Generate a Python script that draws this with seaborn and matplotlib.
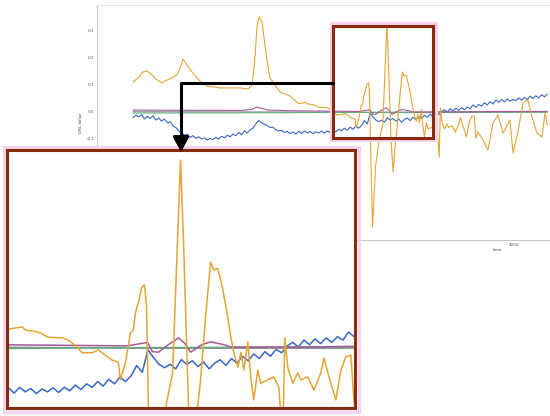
import numpy as np
import matplotlib
matplotlib.use("Agg")
import matplotlib.pyplot as plt
import seaborn as sns
from matplotlib.patches import Rectangle, FancyArrowPatch
from matplotlib.path import Path

# ---- data (time in samples) ----
blue_t = np.arange(0, 4351, 30)
blue_v = [-0.022, -0.012, -0.018, -0.010, -0.026, -0.016, -0.024, -0.014, -0.030, -0.022,
          -0.034, -0.026, -0.040, -0.036, -0.052, -0.058, -0.070, -0.078, -0.086, -0.082,
          -0.094, -0.088, -0.098, -0.092, -0.100, -0.096, -0.104, -0.098, -0.102, -0.094,
          -0.100, -0.090, -0.096, -0.086, -0.092, -0.082, -0.088, -0.076, -0.084, -0.070,
          -0.078, -0.066, -0.060, -0.044, -0.032, -0.040, -0.046, -0.050, -0.058, -0.056,
          -0.066, -0.070, -0.068, -0.076, -0.072, -0.080, -0.074, -0.082, -0.071, -0.080,
          -0.070, -0.078, -0.072, -0.081, -0.073, -0.078, -0.071, -0.079, -0.070, -0.076,
          -0.066, -0.074, -0.064, -0.070, -0.060, -0.068, -0.056, -0.064, -0.052, -0.060,
          -0.050, -0.032, -0.044, -0.005, -0.018, -0.030, -0.036, -0.030, -0.038, -0.022,
          -0.030, -0.024, -0.034, -0.026, -0.038, -0.028, -0.022, -0.032, -0.020, -0.028,
          -0.016, -0.024, -0.012, -0.020, -0.008, -0.016, -0.004, -0.010, 0.002, 0.008,
          0.000, 0.012, 0.004, 0.014, 0.006, 0.016, 0.008, 0.018, 0.012, 0.026,
          0.018, 0.028, 0.022, 0.034, 0.026, 0.038, 0.030, 0.044, 0.036, 0.046,
          0.038, 0.048, 0.040, 0.046, 0.042, 0.052, 0.044, 0.054, 0.046, 0.058,
          0.050, 0.060, 0.052, 0.064, 0.056, 0.066]

orange_t = [0, 52, 105, 147, 200, 252, 304, 336, 388, 462,
            494, 525, 567, 620, 672, 724, 777, 840, 913, 1018,
            1124, 1207, 1250, 1260, 1281, 1302, 1323, 1354, 1375, 1407,
            1438, 1512, 1543, 1648,
            1738, 1813, 1830, 1900, 1954, 2029, 2062, 2099, 2137, 2191,
            2224, 2261, 2299, 2331, 2342, 2369, 2396, 2412, 2423, 2439,
            2456, 2472, 2483, 2493, 2515, 2547, 2585, 2623, 2650, 2666,
            2682, 2709, 2731, 2758, 2774, 2801, 2828, 2844, 2866, 2882,
            2893, 2920, 2937, 2953, 2975, 2991, 3007, 3028, 3044, 3060,
            3082, 3098, 3135, 3168, 3195, 3216, 3227, 3243, 3270, 3297,
            3313, 3351, 3384, 3421, 3438, 3465, 3502, 3529, 3556, 3583,
            3600,
            3622, 3675, 3727, 3780, 3832, 3885, 3958, 3990, 4042, 4095,
            4147, 4190, 4242, 4294, 4326, 4350]
orange_v = [0.111, 0.126, 0.148, 0.152, 0.137, 0.119, 0.107, 0.115, 0.122, 0.137,
            0.163, 0.196, 0.174, 0.148, 0.126, 0.107, 0.096, 0.093, 0.089, 0.089,
            0.089, 0.085, 0.100, 0.130, 0.204, 0.315, 0.352, 0.333, 0.278, 0.193,
            0.126, 0.089, 0.074, 0.059,
            0.031, 0.035, 0.030, 0.026, 0.017, 0.016, 0.012, 0.003, -0.010, -0.010,
            -0.005, -0.014, -0.023, -0.026, -0.057, -0.028, 0.024, 0.030, 0.059, 0.077,
            0.103, 0.108, 0.073, -0.104, -0.426, -0.200, -0.106, -0.046, 0.186, 0.325,
            0.186, -0.104, -0.222, -0.104, -0.057, 0.053, 0.148, 0.134, 0.137, 0.117,
            0.100, 0.053, 0.017, -0.010, -0.035, -0.009, -0.040, 0.009, -0.052, -0.092,
            -0.040, -0.063, -0.057, -0.052, -0.070, -0.167, 0.016, -0.035, -0.063, -0.045,
            -0.057, -0.052, -0.075, -0.045, -0.019, -0.052, -0.092, -0.040, -0.017, -0.014,
            -0.097,
            -0.074, -0.104, -0.141, -0.041, -0.011, -0.078, -0.030, -0.152, -0.074, 0.033,
            0.044, -0.019, -0.078, -0.093, -0.004, -0.048]

purple_t = [0, 600, 1150, 1250, 1300, 1340, 1420, 1700, 2380, 2488, 2515, 2547,
            2600, 2655, 2690, 2720, 2780, 2828, 2900, 2937, 3300, 3800, 4350]
purple_v = [0.007, 0.006, 0.006, 0.010, 0.018, 0.014, 0.007, 0.004, 0.002, 0.008, -0.008, -0.009,
            0.004, 0.016, 0.006, -0.009, 0.004, 0.009, 0.004, 0.000, 0.000, 0.002, 0.002]

grey_t = [0, 1500, 2500, 3500, 4350]
grey_v = [0.001, 0.000, -0.002, -0.002, -0.001]
green_t = [0, 1500, 2500, 3500, 4350]
green_v = [-0.004, -0.003, -0.001, 0.000, 0.000]

# zoom window marked on the main view, and range shown in the inset
box_x = (2100, 3150)
box_y = (-0.0963, 0.3185)
inset_xlim = (1732, 3605)
inset_ylim = (-0.106, 0.3426)

c_blue, c_orange = "#3867c2", "#e3a535"
c_purple, c_grey, c_green = "#a2589a", "#8e8e8e", "#5fae82"
c_box, c_halo = "#8a2a0e", "#f8d2ee"

sns.set_theme(style="white")
plt.rcParams['font.family'] = ['DejaVu Sans']

fig = plt.figure(figsize=(5.5, 4.16), dpi=100)
W, H = 550, 416


def draw_lines(ax, lw):
    sns.lineplot(x=blue_t, y=blue_v, ax=ax, color=c_blue, lw=lw, estimator=None)
    sns.lineplot(x=grey_t, y=grey_v, ax=ax, color=c_grey, lw=lw, estimator=None)
    sns.lineplot(x=green_t, y=green_v, ax=ax, color=c_green, lw=lw, estimator=None)
    sns.lineplot(x=purple_t, y=purple_v, ax=ax, color=c_purple, lw=lw, estimator=None)
    sns.lineplot(x=orange_t, y=orange_v, ax=ax, color=c_orange, lw=lw, estimator=None)


# main view (right part runs off the picture)
ax = fig.add_axes([97 / W, 176 / H, 802 / W, 235 / H])
draw_lines(ax, 0.8)
ax.set_xlim(-378, 8043)
ax.set_ylim(-0.474, 0.396)
yt = [-0.4, -0.3, -0.2, -0.1, 0.0, 0.1, 0.2, 0.3]
ax.set_yticks(yt)
ax.set_yticklabels([f"{v:.1f}" for v in yt])
ax.set_xticks([0, 2000, 4000])
ax.tick_params(labelsize=3, length=0, pad=2, colors="#555555")
ax.set_xlabel("time", fontsize=3, labelpad=1, color="#444444")
ax.set_ylabel("DRL Value", fontsize=3, labelpad=2, color="#444444")
for s in ax.spines.values():
    s.set_color("#c8c8c8")
    s.set_linewidth(0.8)
ax.spines["top"].set_color("#e6e6e6")

# marked window on the main view
dx = 2.5 * 8421 / 802
dy = 2.5 / 270
ax.add_patch(Rectangle((box_x[0] - dx, box_y[0] - dy), box_x[1] - box_x[0] + 2 * dx,
                       box_y[1] - box_y[0] + 2 * dy, fill=False, ec=c_halo, lw=2.2, zorder=5))
ax.add_patch(Rectangle((box_x[0], box_y[0]), box_x[1] - box_x[0], box_y[1] - box_y[0],
                       fill=False, ec=c_box, lw=2.2, zorder=6))

# pink halo around the inset
fig.add_artist(Rectangle((3.5 / W, 4.5 / H), 355 / W, 265 / H, fill=False, ec=c_halo,
                         lw=2.2, transform=fig.transFigure, zorder=3))

# zoomed inset
ax_in = fig.add_axes([7 / W, 8 / H, 348 / W, 258 / H], zorder=5)
draw_lines(ax_in, 1.1)
ax_in.set_xlim(*inset_xlim)
ax_in.set_ylim(*inset_ylim)
ax_in.set_xticks([])
ax_in.set_yticks([])
ax_in.set_xlabel("")
ax_in.set_ylabel("")
ax_in.set_facecolor("white")
for s in ax_in.spines.values():
    s.set_color(c_box)
    s.set_linewidth(2.2)

# connector arrow from the marked window down to the inset
verts = [(333 / 100, (H - 83) / 100), (181 / 100, (H - 83) / 100), (181 / 100, (H - 152) / 100)]
path = Path(verts, [Path.MOVETO, Path.LINETO, Path.LINETO])
arrow = FancyArrowPatch(path=path, arrowstyle="-|>,head_length=0.55,head_width=0.3",
                        mutation_scale=16, lw=2.2, color="black",
                        transform=fig.dpi_scale_trans, zorder=10)
fig.add_artist(arrow)

fig.savefig("out.png", dpi=100)
